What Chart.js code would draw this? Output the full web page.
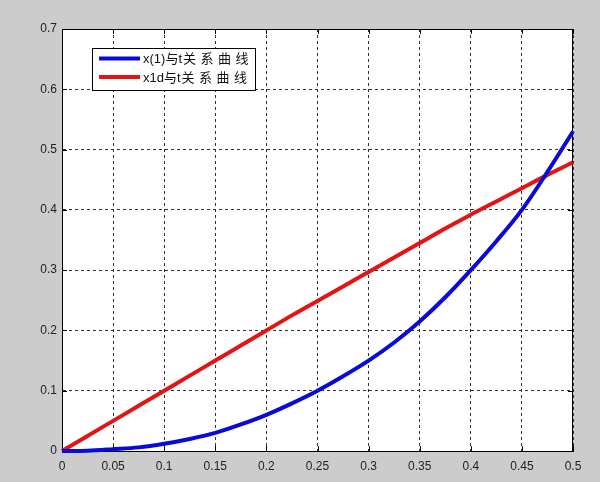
<!DOCTYPE html>
<html>
<head>
<meta charset="utf-8">
<script src="https://cdn.jsdelivr.net/npm/chart.js@4/dist/chart.umd.min.js"></script>
<style>
html,body{margin:0;padding:0;background:#cccccc;}
#wrap{width:600px;height:482px;position:relative;}
</style>
</head>
<body>
<div id="wrap"><canvas id="c" width="600" height="482"></canvas></div>
<script>
// ---- data ----
const tValues   = [0, 0.025, 0.05, 0.075, 0.1, 0.125, 0.15, 0.175, 0.2, 0.225, 0.25, 0.275, 0.3, 0.325, 0.35, 0.375, 0.4, 0.425, 0.45, 0.475, 0.5];
const x1Values  = [0, 0.0005, 0.003, 0.006, 0.012, 0.02, 0.03, 0.044, 0.06, 0.079, 0.10, 0.124, 0.15, 0.18, 0.215, 0.255, 0.30, 0.348, 0.40, 0.463, 0.53];
const x1dValues = [0, 0.025, 0.05, 0.075, 0.1, 0.125, 0.15, 0.175, 0.2, 0.225, 0.249, 0.273, 0.297, 0.321, 0.345, 0.369, 0.392, 0.414, 0.436, 0.458, 0.479];
const seriesLabels = ['x(1)与t关系曲线', 'x1d与t关系曲线'];
const xTickValues = [0, 0.05, 0.1, 0.15, 0.2, 0.25, 0.3, 0.35, 0.4, 0.45, 0.5];
const yTickValues = [0, 0.1, 0.2, 0.3, 0.4, 0.5, 0.6, 0.7];

const toPts = (ys) => tValues.map((t, i) => ({x: t, y: ys[i]}));

const FONT = '"Liberation Sans", Arial, "Noto Sans CJK SC", sans-serif';

const framePlugin = {
  id: 'frame',
  beforeDraw(chart) {
    const {ctx, chartArea: a} = chart;
    ctx.save();
    ctx.fillStyle = '#cccccc';
    ctx.fillRect(0, 0, chart.width, chart.height);
    ctx.fillStyle = '#ffffff';
    ctx.fillRect(a.left, a.top, a.right - a.left, a.bottom - a.top);
    ctx.restore();
  },
  beforeDatasetsDraw(chart) {
    const {ctx, chartArea: a, scales} = chart;
    ctx.save();
    ctx.strokeStyle = '#000';
    ctx.lineWidth = 1;
    ctx.strokeRect(a.left + 0.5, a.top + 0.5, a.right - a.left - 1, a.bottom - a.top);
    ctx.beginPath();
    const tl = 5;
    xTickValues.forEach(v => {
      const x = Math.round(scales.x.getPixelForValue(v)) + 0.5;
      ctx.moveTo(x, a.bottom); ctx.lineTo(x, a.bottom - tl);
      ctx.moveTo(x, a.top); ctx.lineTo(x, a.top + tl);
    });
    yTickValues.forEach(v => {
      const y = Math.round(scales.y.getPixelForValue(v)) + 0.5;
      ctx.moveTo(a.left, y); ctx.lineTo(a.left + tl, y);
      ctx.moveTo(a.right, y); ctx.lineTo(a.right - tl, y);
    });
    ctx.stroke();
    ctx.restore();
  },
  afterDraw(chart) {
    const {ctx} = chart;
    const bx = 92.5, by = 48.5, bw = 163, bh = 42;
    ctx.save();
    ctx.fillStyle = '#ffffff';
    ctx.fillRect(bx, by, bw, bh);
    ctx.strokeStyle = '#000';
    ctx.lineWidth = 1;
    ctx.strokeRect(bx, by, bw, bh);
    const rows = [58.5, 77];
    chart.data.datasets.forEach((ds, i) => {
      ctx.strokeStyle = ds.borderColor;
      ctx.lineWidth = 4;
      ctx.beginPath();
      ctx.moveTo(99, rows[i]);
      ctx.lineTo(140, rows[i]);
      ctx.stroke();
      ctx.fillStyle = '#111';
      ctx.font = '13px ' + FONT;
      ctx.textBaseline = 'middle';
      ctx.textAlign = 'left';
      // label: compact prefix, then spaced CJK tail as in the reference
      const label = ds.label;
      const cut = label.indexOf('t') + 1;
      const head = label.slice(0, cut);
      const tail = label.slice(cut);
      let x = 143;
      ctx.fillText(head, x, rows[i] + 1);
      x += ctx.measureText(head).width + 1;
      for (const ch of tail) {
        ctx.fillText(ch, x, rows[i] + 1);
        x += ctx.measureText(ch).width + 4.5;
      }
    });
    ctx.restore();
  }
};

new Chart(document.getElementById('c'), {
  type: 'line',
  data: {
    datasets: [
      {label: seriesLabels[0], data: toPts(x1Values), borderColor: '#0a0ad8', borderWidth: 4, pointRadius: 0, cubicInterpolationMode: 'monotone', clip: false},
      {label: seriesLabels[1], data: toPts(x1dValues), borderColor: '#e31414', borderWidth: 4, pointRadius: 0, cubicInterpolationMode: 'monotone', clip: false}
    ]
  },
  options: {
    responsive: false,
    animation: false,
    events: [],
    layout: {padding: {left: 0, top: 29, right: 27, bottom: 0}},
    plugins: {legend: {display: false}, tooltip: {enabled: false}},
    scales: {
      x: {
        type: 'linear', min: 0, max: 0.5,
        afterFit(s) { s.height = 31; },
        afterBuildTicks(s) { s.ticks = xTickValues.map(v => ({value: v})); },
        grid: {color: '#333', lineWidth: 1, drawTicks: false},
        border: {display: true, color: '#000', dash: [3, 3]},
        ticks: {padding: 8, color: '#222', font: {family: FONT, size: 12}, maxRotation: 0, autoSkip: false,
          callback: v => String(+v.toFixed(2))}
      },
      y: {
        type: 'linear', min: 0, max: 0.7,
        afterFit(s) { s.width = 62; },
        afterBuildTicks(s) { s.ticks = yTickValues.map(v => ({value: v})); },
        grid: {color: '#333', lineWidth: 1, drawTicks: false},
        border: {display: true, color: '#000', dash: [3, 3]},
        ticks: {padding: 5, color: '#222', font: {family: FONT, size: 12}, autoSkip: false,
          callback: v => String(+v.toFixed(1))}
      }
    }
  },
  plugins: [framePlugin]
});
</script>
</body>
</html>
